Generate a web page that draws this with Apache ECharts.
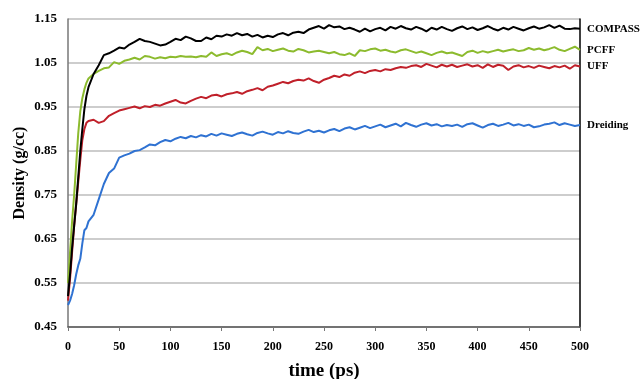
<!DOCTYPE html>
<html>
<head>
<meta charset="utf-8">
<script src="https://cdn.jsdelivr.net/npm/echarts@6/dist/echarts.min.js"></script>
<style>
html, body { margin: 0; padding: 0; background: #fff; }
#container { width: 641px; height: 379px; }
</style>
</head>
<body>
<div id="container"></div>
<script>
// time (ps)
var times = [0, 2, 4, 6, 8, 10, 12, 14, 16, 18, 20,
    25, 30, 35, 40, 45, 50, 55, 60, 65, 70,
    75, 80, 85, 90, 95, 100, 105, 110, 115, 120,
    125, 130, 135, 140, 145, 150, 155, 160, 165, 170,
    175, 180, 185, 190, 195, 200, 205, 210, 215, 220,
    225, 230, 235, 240, 245, 250, 255, 260, 265, 270,
    275, 280, 285, 290, 295, 300, 305, 310, 315, 320,
    325, 330, 335, 340, 345, 350, 355, 360, 365, 370,
    375, 380, 385, 390, 395, 400, 405, 410, 415, 420,
    425, 430, 435, 440, 445, 450, 455, 460, 465, 470,
    475, 480, 485, 490, 495, 500];

// density (g/cc)
var compass = [0.52, 0.57, 0.63, 0.68, 0.73, 0.79, 0.85, 0.90, 0.945, 0.975, 0.995,
    1.025, 1.045, 1.068, 1.072, 1.078, 1.085, 1.083, 1.092, 1.098, 1.105,
    1.100, 1.098, 1.094, 1.090, 1.092, 1.098, 1.105, 1.102, 1.110, 1.106,
    1.100, 1.100, 1.108, 1.104, 1.112, 1.110, 1.115, 1.112, 1.118, 1.113,
    1.116, 1.110, 1.114, 1.108, 1.112, 1.109, 1.115, 1.118, 1.113, 1.119,
    1.121, 1.118, 1.126, 1.130, 1.134, 1.128, 1.136, 1.131, 1.133, 1.127,
    1.130, 1.126, 1.121, 1.128, 1.122, 1.127, 1.130, 1.124, 1.132, 1.128,
    1.134, 1.129, 1.126, 1.132, 1.128, 1.122, 1.130, 1.126, 1.132, 1.127,
    1.123, 1.129, 1.133, 1.127, 1.131, 1.125, 1.129, 1.134, 1.128, 1.124,
    1.130, 1.126, 1.132, 1.128, 1.124, 1.129, 1.133, 1.128, 1.131, 1.136,
    1.130, 1.135, 1.128, 1.127, 1.129, 1.128];

var pcff = [0.55, 0.62, 0.69, 0.75, 0.82, 0.89, 0.94, 0.97, 0.99, 1.005, 1.015,
    1.025, 1.032, 1.038, 1.040, 1.052, 1.048, 1.055, 1.058, 1.062, 1.058,
    1.066, 1.064, 1.060, 1.063, 1.061, 1.064, 1.063, 1.066, 1.064, 1.065,
    1.063, 1.066, 1.064, 1.074, 1.066, 1.070, 1.072, 1.068, 1.074, 1.078,
    1.075, 1.070, 1.086, 1.079, 1.082, 1.077, 1.080, 1.083, 1.078, 1.076,
    1.082, 1.079, 1.074, 1.076, 1.078, 1.075, 1.072, 1.075, 1.070, 1.068,
    1.072, 1.066, 1.079, 1.077, 1.081, 1.083, 1.078, 1.080, 1.076, 1.074,
    1.079, 1.081, 1.077, 1.073, 1.076, 1.072, 1.068, 1.073, 1.076, 1.072,
    1.074, 1.070, 1.066, 1.075, 1.078, 1.073, 1.077, 1.074, 1.077, 1.080,
    1.076, 1.079, 1.081, 1.077, 1.079, 1.084, 1.080, 1.083, 1.079, 1.082,
    1.086, 1.080, 1.077, 1.082, 1.087, 1.080];

var uff = [0.51, 0.56, 0.62, 0.68, 0.73, 0.78, 0.83, 0.875, 0.90, 0.914, 0.918,
    0.921, 0.914, 0.918, 0.930, 0.936, 0.942, 0.945, 0.948, 0.951, 0.947,
    0.952, 0.950, 0.955, 0.953, 0.958, 0.962, 0.966, 0.960, 0.958, 0.964,
    0.969, 0.973, 0.970, 0.976, 0.978, 0.974, 0.979, 0.981, 0.984, 0.980,
    0.986, 0.989, 0.993, 0.988, 0.996, 0.999, 1.003, 1.007, 1.004, 1.009,
    1.012, 1.010, 1.015, 1.009, 1.005, 1.012, 1.016, 1.021, 1.018, 1.024,
    1.021, 1.028, 1.031, 1.027, 1.032, 1.034, 1.031, 1.036, 1.034, 1.038,
    1.041, 1.039, 1.043, 1.045, 1.041, 1.048, 1.044, 1.040, 1.046, 1.042,
    1.046, 1.041, 1.044, 1.047, 1.042, 1.045, 1.039, 1.047, 1.041, 1.046,
    1.044, 1.034, 1.042, 1.045, 1.040, 1.043, 1.039, 1.044, 1.041, 1.038,
    1.043, 1.040, 1.044, 1.037, 1.045, 1.042];

var dreiding = [0.50, 0.51, 0.525, 0.545, 0.57, 0.59, 0.605, 0.64, 0.67, 0.675, 0.69,
    0.705, 0.740, 0.775, 0.800, 0.810, 0.835, 0.840, 0.844, 0.850, 0.852,
    0.858, 0.865, 0.863, 0.870, 0.875, 0.872, 0.878, 0.882, 0.879, 0.884,
    0.881, 0.886, 0.883, 0.889, 0.885, 0.890, 0.887, 0.884, 0.889, 0.892,
    0.888, 0.885, 0.891, 0.894, 0.890, 0.887, 0.893, 0.890, 0.895, 0.891,
    0.889, 0.894, 0.898, 0.893, 0.896, 0.892, 0.897, 0.900, 0.895, 0.901,
    0.904, 0.899, 0.903, 0.907, 0.902, 0.906, 0.910, 0.904, 0.908, 0.912,
    0.906, 0.914, 0.909, 0.905, 0.910, 0.913, 0.908, 0.911, 0.906, 0.909,
    0.907, 0.910, 0.905, 0.911, 0.913, 0.908, 0.903, 0.909, 0.912, 0.907,
    0.910, 0.914, 0.908, 0.911, 0.907, 0.910, 0.904, 0.906, 0.910, 0.912,
    0.915, 0.909, 0.913, 0.910, 0.907, 0.909];

var seriesNames = ['Dreiding', 'UFF', 'PCFF', 'COMPASS'];
var seriesColors = ['#2f72d2', '#c0202a', '#8cbb2e', '#000000'];
var seriesValues = [dreiding, uff, pcff, compass];

var FONT = '"Liberation Serif", "Times New Roman", serif';

/*==========================================
 * pair times with values for a value x axis
 */
function toPoints(vals) {
    var _pts = [];
    for (var i = 0, l = times.length; i < l; i++) {
        _pts.push([times[i], vals[i]]);
    };
    return _pts;
};

var series = [];
for (var i = 0; i < seriesNames.length; i++) {
    series.push({
        name: seriesNames[i],
        type: 'line',
        data: toPoints(seriesValues[i]),
        showSymbol: false,
        symbol: 'none',
        lineStyle: { color: seriesColors[i], width: 2 },
        itemStyle: { color: seriesColors[i] },
        endLabel: {
            show: true,
            formatter: '{a}',
            distance: 7,
            color: '#000',
            fontFamily: FONT,
            fontWeight: 'bold',
            fontSize: 11
        }
    });
};

var myChart = echarts.init(document.getElementById('container'), null, { renderer: 'canvas' });

myChart.setOption({
    animation: false,
    backgroundColor: '#fff',
    grid: { left: 68, right: 61, top: 19, bottom: 52, containLabel: false, outerBoundsMode: 'none' },
    xAxis: {
        type: 'value',
        min: 0,
        max: 500,
        interval: 50,
        name: 'time (ps)',
        nameLocation: 'middle',
        nameGap: 35,
        nameTextStyle: { fontFamily: FONT, fontWeight: 'bold', fontSize: 19, color: '#000' },
        axisLine: { show: true, onZero: false, lineStyle: { color: '#555', width: 1.5 } },
        axisTick: { show: true, length: 4, lineStyle: { color: '#777' } },
        axisLabel: { fontFamily: FONT, fontWeight: 'bold', fontSize: 12, color: '#000', margin: 14 },
        splitLine: { show: false }
    },
    yAxis: [{
        type: 'value',
        min: 0.45,
        max: 1.15,
        interval: 0.1,
        name: 'Density (g/cc)',
        nameLocation: 'middle',
        nameGap: 40,
        nameMoveOverlap: false,
        nameTextStyle: { fontFamily: FONT, fontWeight: 'bold', fontSize: 16, color: '#000' },
        axisLine: { show: true, lineStyle: { color: '#777', width: 1.5 } },
        axisTick: { show: false },
        axisLabel: {
            fontFamily: FONT, fontWeight: 'bold', fontSize: 13, color: '#000', margin: 11,
            formatter: function(v) { return v.toFixed(2); }
        },
        splitLine: { show: true, lineStyle: { color: '#bdbdbd', width: 1.5 } }
    }, {
        type: 'value',
        position: 'right',
        min: 0.45,
        max: 1.15,
        axisLine: { show: true, lineStyle: { color: '#000', width: 1.5 } },
        axisTick: { show: false },
        axisLabel: { show: false },
        splitLine: { show: false }
    }],
    series: series
});
</script>
</body>
</html>
